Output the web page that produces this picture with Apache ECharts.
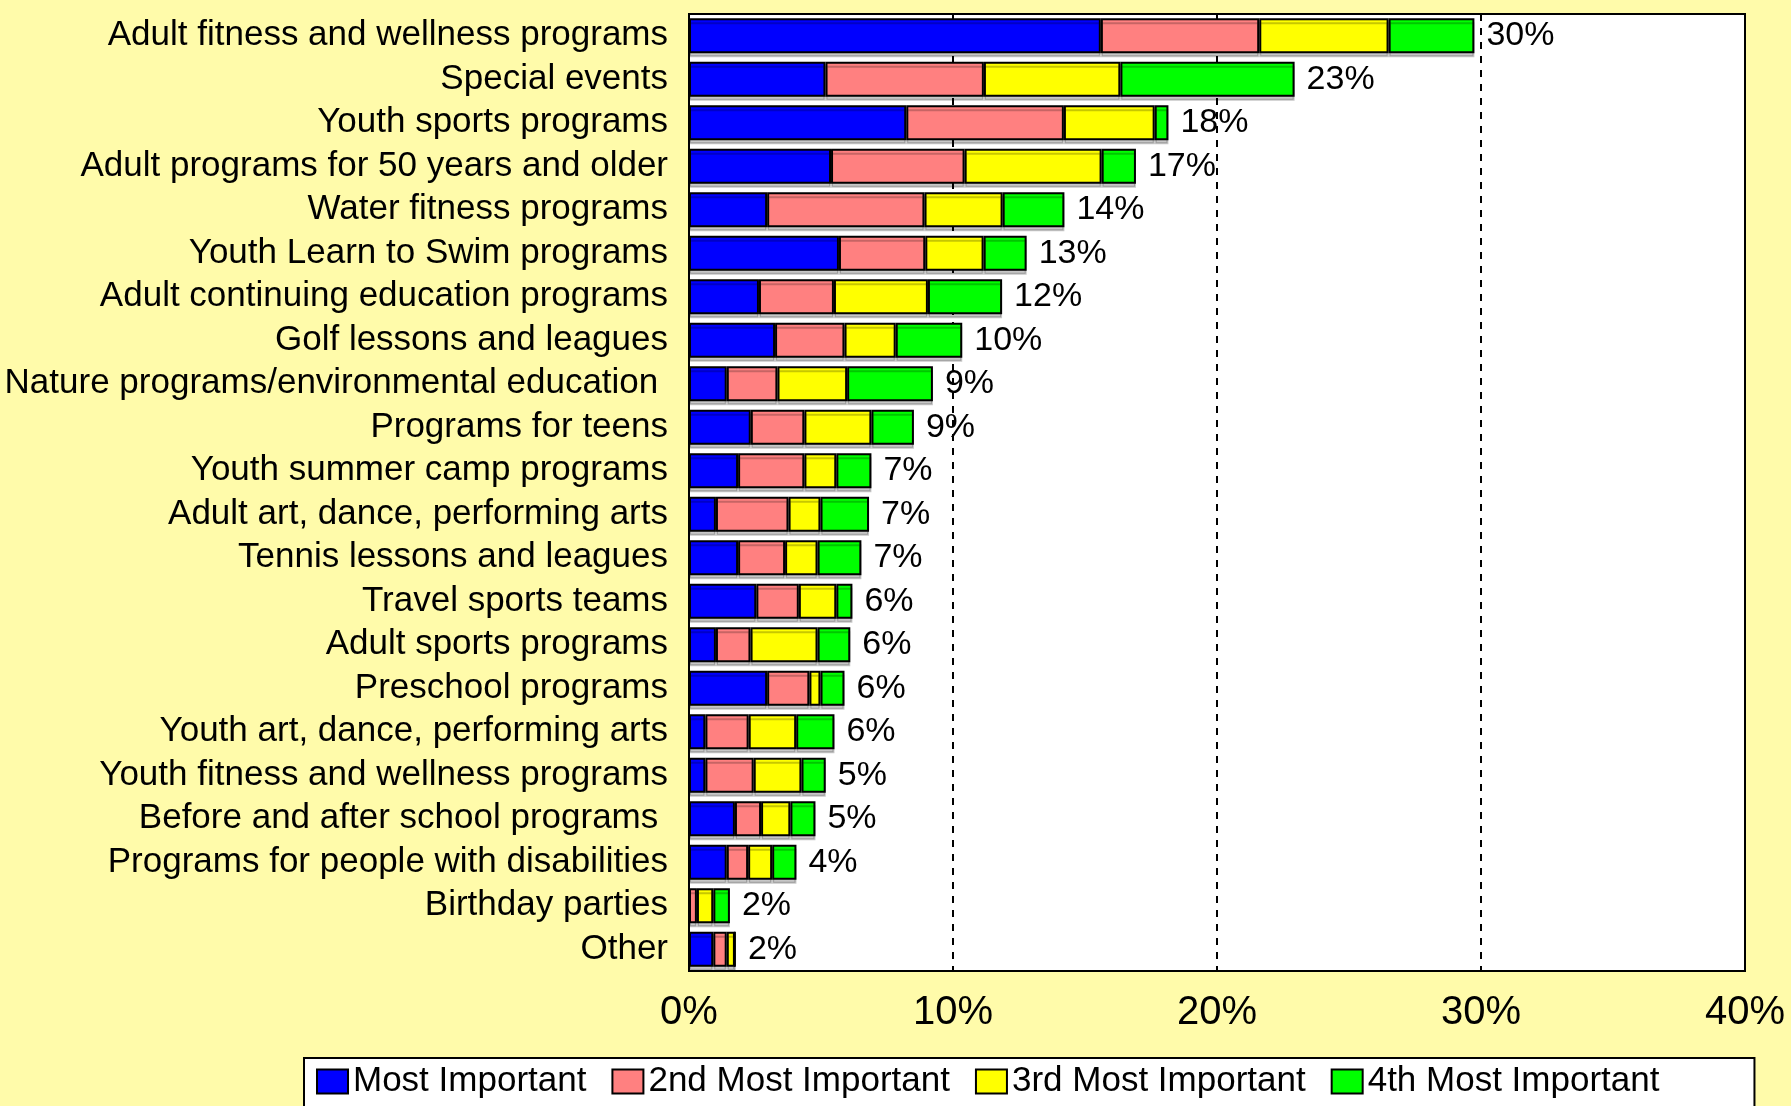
<!DOCTYPE html>
<html>
<head>
<meta charset="utf-8">
<script src="https://cdn.jsdelivr.net/npm/echarts@6/dist/echarts.min.js"></script>
<style>
  html, body { margin: 0; padding: 0; background: #FFFBAA; }
  #chart { width: 1791px; height: 1106px; }
</style>
</head>
<body>
<div id="chart"></div>
<script>
const categories = [
  "Adult fitness and wellness programs",
  "Special events",
  "Youth sports programs",
  "Adult programs for 50 years and older",
  "Water fitness programs",
  "Youth Learn to Swim programs",
  "Adult continuing education programs",
  "Golf lessons and leagues",
  "Nature programs/environmental education ",
  "Programs for teens",
  "Youth summer camp programs",
  "Adult art, dance, performing arts",
  "Tennis lessons and leagues",
  "Travel sports teams",
  "Adult sports programs",
  "Preschool programs",
  "Youth art, dance, performing arts",
  "Youth fitness and wellness programs",
  "Before and after school programs ",
  "Programs for people with disabilities",
  "Birthday parties",
  "Other"
];
const seriesNames = ["Most Important", "2nd Most Important", "3rd Most Important", "4th Most Important"];
const mostImportant = [15.6, 5.17, 8.23, 5.38, 2.96, 5.68, 2.65, 3.26, 1.43, 2.34, 1.86, 1.02, 1.86, 2.55, 1.02, 2.96, 0.62, 0.62, 1.74, 1.43, 0, 0.92];
const second        = [6.0, 6.0, 5.97, 5.06, 5.96, 3.27, 2.84, 2.63, 1.92, 2.03, 2.51, 2.75, 1.78, 1.61, 1.31, 1.6, 1.64, 1.83, 0.99, 0.81, 0.3, 0.51];
const third         = [4.9, 5.17, 3.44, 5.19, 2.96, 2.21, 3.56, 1.94, 2.64, 2.54, 1.21, 1.21, 1.23, 1.42, 2.54, 0.42, 1.8, 1.81, 1.11, 0.91, 0.62, 0.31];
const fourth        = [3.25, 6.6, 0.52, 1.3, 2.34, 1.63, 2.81, 2.52, 3.25, 1.61, 1.33, 1.84, 1.66, 0.61, 1.24, 0.91, 1.45, 0.92, 0.95, 0.92, 0.63, 0];
const xTicks = [0, 10, 20, 30, 40];

const colors = ["#0000FF", "#FF8080", "#FFFF00", "#00FF00"];
const FONT = "'Liberation Sans', Arial, sans-serif";
const seriesData = [mostImportant, second, third, fourth];

const series = seriesData.map((d, i) => {
  const s = {
    name: seriesNames[i],
    type: 'bar',
    stack: 'total',
    barWidth: 35,
    data: d,
    itemStyle: {
      color: colors[i], borderColor: '#000', borderWidth: 2,
      shadowColor: 'rgba(0,0,0,0.22)', shadowOffsetY: 4, shadowOffsetX: 0, shadowBlur: 0
    },
    emphasis: { disabled: true },
    z: 3
  };
  if (i === seriesData.length - 1) {
    s.label = {
      show: true,
      position: 'right',
      distance: 12,
      fontSize: 34,
      fontFamily: FONT,
      color: '#000',
      formatter: p => {
        const t = mostImportant[p.dataIndex] + second[p.dataIndex] + third[p.dataIndex] + fourth[p.dataIndex];
        return Math.round(t) + '%';
      }
    };
  }
  return s;
});

const chart = echarts.init(document.getElementById('chart'), null, { renderer: 'canvas' });
chart.setOption({
  backgroundColor: '#FFFBAA',
  animation: false,
  textStyle: { fontFamily: FONT },
  grid: {
    left: 689, right: 46, top: 14, bottom: 135,
    show: true, backgroundColor: '#FFFFFF', borderColor: '#000', borderWidth: 2,
    containLabel: false
  },
  xAxis: {
    type: 'value',
    min: xTicks[0], max: xTicks[xTicks.length - 1], interval: 10,
    axisLine: { show: false },
    axisTick: { show: false },
    axisLabel: { fontSize: 40, color: '#000', fontFamily: FONT, margin: 22, formatter: '{value}%' },
    splitLine: { show: true, lineStyle: { color: '#000', width: 2, type: [7, 7] } }
  },
  yAxis: {
    type: 'category',
    inverse: true,
    data: categories,
    axisLine: { show: false },
    axisTick: { show: false },
    axisLabel: { interval: 0, fontSize: 35, color: '#000', fontFamily: FONT, margin: 21 }
  },
  legend: {
    data: seriesNames,
    left: 304, top: 1058,
    orient: 'horizontal',
    icon: 'rect',
    itemWidth: 31, itemHeight: 24, itemGap: 25,
    textStyle: { fontSize: 35, color: '#000', fontFamily: FONT },
    backgroundColor: '#FFFFFF',
    borderColor: '#000', borderWidth: 2,
    padding: [6, 95, 40, 12]
  },
  series: series
});
</script>
</body>
</html>
